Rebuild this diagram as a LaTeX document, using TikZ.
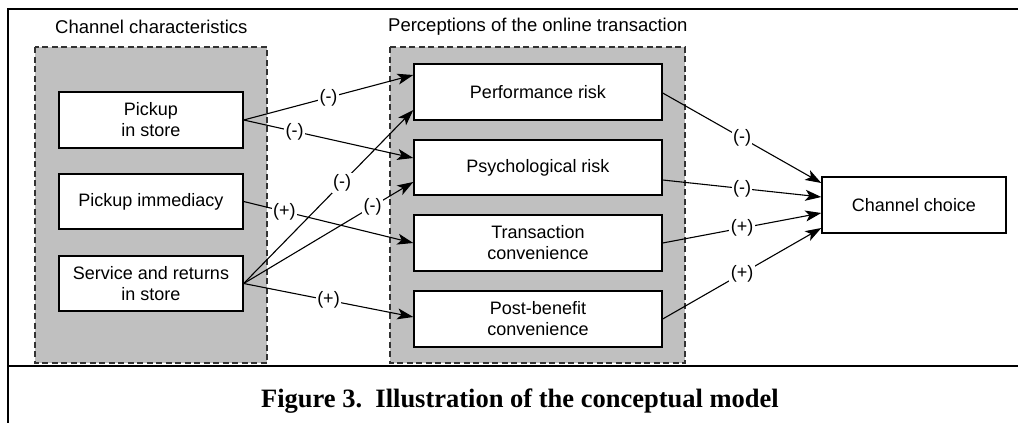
\documentclass[tikz,border=0pt]{standalone}
\usepackage{fontspec}
\setmainfont{Liberation Sans}
\newfontfamily\capfont{Liberation Serif}
\usetikzlibrary{arrows.meta}
\definecolor{grp}{RGB}{192,192,192}
\tikzset{
  grpbox/.style={draw=black!80, fill=grp, dashed, dash pattern=on 6pt off 3.5pt, line width=1.1pt},
  box/.style={draw=black, fill=white, line width=1.4pt, align=center, font=\fontsize{18}{21}\selectfont, inner sep=0pt},
  grplabel/.style={anchor=west, font=\fontsize{18.5}{21}\selectfont, inner sep=0pt},
  arr/.style={-{Stealth[length=16pt,width=11pt,inset=4pt]}, line width=1.1pt},
  lbl/.style={fill=white, inner sep=1.5pt, font=\fontsize{18}{21}\selectfont},
  lblg/.style={fill=grp, inner sep=1.5pt, font=\fontsize{18}{21}\selectfont}
}
\begin{document}
\begin{tikzpicture}[x=1pt,y=-1pt]
\useasboundingbox (0,0) rectangle (1018,423);
% frame
\draw[line width=2.4pt] (1018,9) -- (8,9) -- (8,423);
\draw[line width=2.4pt] (8,366) -- (1018,366);
% groups
\draw[grpbox] (35,47) rectangle (267,363);
\draw[grpbox] (390,47) rectangle (685,363);
\node[grplabel] (gl1) at (55,27) {Channel characteristics};
\node[grplabel] (gl2) at (388,27) {Perceptions of the online transaction};
% left boxes
\node[box, minimum width=184pt, minimum height=56pt] (pis) at (151,120) {Pickup\\in store};
\node[box, minimum width=184pt, minimum height=55pt] (pim) at (151,201.5) {Pickup immediacy};
\node[box, minimum width=184pt, minimum height=55pt] (srv) at (151,283.5) {Service and returns\\in store};
% middle boxes
\node[box, minimum width=248pt, minimum height=56pt] (pr) at (538,92) {Performance risk};
\node[box, minimum width=248pt, minimum height=55pt] (psr) at (538,167.5) {Psychological risk};
\node[box, minimum width=248pt, minimum height=56pt] (tc) at (538,243) {Transaction\\convenience};
\node[box, minimum width=248pt, minimum height=56pt] (pb) at (538,319) {Post-benefit\\convenience};
% right box
\node[box, minimum width=184pt, minimum height=56pt] (cc) at (914,205) {Channel choice};
% arrows from left
\draw[arr] (pis.east) -- node[lbl, pos=0.5] {(-)} ([yshift=17pt]pr.west);
\draw[arr] (pis.east) -- node[lbl, pos=0.3] {(-)} ([yshift=9.5pt]psr.west);
\draw[arr] (pim.east) -- node[lbl, pos=0.24] {(+)} (tc.west);
\draw[arr] (srv.east) -- node[lbl, pos=0.58] {(-)} ([yshift=-18pt]pr.west);
\draw[arr] (srv.east) -- node[lbl, pos=0.76] {(-)} ([yshift=-14.5pt]psr.west);
\draw[arr] (srv.east) -- node[lbl, pos=0.5] {(+)} ([yshift=2pt]pb.west);
% arrows to channel choice
\draw[arr] ([yshift=-1pt]pr.east) -- node[lbl, pos=0.5] {(-)} ([yshift=22pt]cc.west);
\draw[arr] ([yshift=-12.5pt]psr.east) -- node[lbl, pos=0.5] {(-)} ([yshift=8pt]cc.west);
\draw[arr] (tc.east) -- node[lbl, pos=0.5] {(+)} ([yshift=-8pt]cc.west);
\draw[arr] (pb.east) -- node[lbl, pos=0.5] {(+)} ([yshift=-23pt]cc.west);
% caption
\node[font=\capfont\bfseries\fontsize{26.5}{30}\selectfont, inner sep=0pt, anchor=base] (cap) at (520,407) {Figure 3.\ \ Illustration of the conceptual model};
\end{tikzpicture}
\end{document}
